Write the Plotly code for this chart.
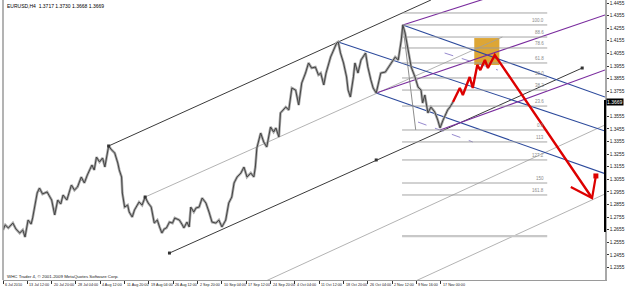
import plotly.graph_objects as go

# ---------------- data ----------------
title_text = "EURUSD,H4  1.3717 1.3730 1.3668 1.3669"
copyright_text = "WHC Trader 4, \u00a9 2001-2009 MetaQuotes Software Corp."
last_price = 1.3669

bars = [0, 3, 7, 13, 17, 22, 26, 29, 33, 37, 39, 42, 45, 48, 52, 58, 62, 64, 68, 72,
        76, 79, 84, 88, 90, 94, 98, 103, 107, 111, 117, 120, 123, 127, 131, 134, 136, 139, 143, 147,
        151, 153, 156, 157, 160, 164, 166, 170, 173, 175, 179, 183, 187, 191, 195, 199, 203, 206, 209, 212,
        215, 219, 223, 226, 232, 236, 238, 242, 245, 247, 251, 254, 258, 262, 267, 271, 275, 280, 284, 288,
        293, 297, 301, 304, 308, 313, 317, 321, 326, 330, 332, 334, 339, 343, 347, 352, 356, 359, 363, 365,
        372, 376, 380, 385, 389, 393, 398, 402, 406, 411, 415, 418, 422, 425, 431, 435, 439, 441, 444, 448,
        452, 454, 457, 461, 463, 467, 471, 477, 480, 484, 487, 491, 494, 497, 503, 507, 511, 516, 520, 524,
        526, 529, 533, 537, 542, 546, 550, 552, 555, 559, 563, 568, 572, 575, 579, 583, 585, 588, 592]
closes = [1.2653, 1.2693, 1.2669, 1.2708, 1.2661, 1.2629, 1.2653, 1.2597, 1.2732, 1.2700, 1.2748, 1.2851, 1.2947, 1.2986, 1.2939, 1.2955, 1.2907, 1.2891, 1.2772, 1.2891,
          1.2859, 1.2931, 1.2891, 1.2970, 1.3010, 1.2970, 1.2994, 1.3074, 1.3026, 1.3090, 1.3169, 1.3129, 1.3232, 1.3193, 1.3225, 1.3153, 1.3209, 1.3320, 1.3288, 1.3264,
          1.3185, 1.3129, 1.3074, 1.2947, 1.2835, 1.2851, 1.2796, 1.2756, 1.2812, 1.2835, 1.2875, 1.2851, 1.2915, 1.2867, 1.2835, 1.2708, 1.2732, 1.2677, 1.2629, 1.2661,
          1.2669, 1.2716, 1.2708, 1.2748, 1.2732, 1.2693, 1.2669, 1.2716, 1.2677, 1.2835, 1.2796, 1.2828, 1.2835, 1.2907, 1.2867, 1.2796, 1.2716, 1.2708, 1.2732, 1.2677,
          1.2732, 1.2867, 1.2915, 1.3026, 1.3074, 1.3105, 1.3153, 1.3074, 1.3105, 1.3074, 1.3153, 1.3304, 1.3423, 1.3352, 1.3312, 1.3471, 1.3431, 1.3463, 1.3391, 1.3582,
          1.3629, 1.3606, 1.3780, 1.3764, 1.3645, 1.3820, 1.3899, 1.3979, 1.3939, 1.3947, 1.3884, 1.3899, 1.3804, 1.3899, 1.4026, 1.4082, 1.4138, 1.4146, 1.4058, 1.3979,
          1.3868, 1.3764, 1.3709, 1.3868, 1.3979, 1.3899, 1.4003, 1.4058, 1.3947, 1.3844, 1.3780, 1.3741, 1.3820, 1.3899, 1.3907, 1.3947, 1.3987, 1.4026, 1.4003, 1.4161,
          1.4281, 1.4217, 1.4082, 1.3947, 1.3868, 1.3788, 1.3764, 1.3661, 1.3725, 1.3582, 1.3629, 1.3590, 1.3526, 1.3463, 1.3526, 1.3582, 1.3606, 1.3629, 1.3669]

x_tick_bars = [0, 32, 64, 96, 128, 160, 192, 224, 256, 288, 320, 352, 384, 416, 448, 480, 512, 544, 576]
x_tick_labels = ["6 Jul 2010", "13 Jul 12:00", "20 Jul 20:00", "28 Jul 04:00", "4 Aug 12:00",
                 "11 Aug 20:00", "19 Aug 04:00", "26 Aug 12:00", "2 Sep 20:00", "10 Sep 04:00",
                 "17 Sep 12:00", "24 Sep 20:00", "4 Oct 04:00", "11 Oct 12:00", "18 Oct 20:00",
                 "26 Oct 04:00", "2 Nov 12:00", "9 Nov 16:00", "17 Nov 00:00"]
y_tick_values = [1.4455, 1.4355, 1.4255, 1.4155, 1.4055, 1.3955, 1.3855, 1.3755, 1.3655, 1.3555,
                 1.3455, 1.3355, 1.3255, 1.3155, 1.3055, 1.2955, 1.2855, 1.2755, 1.2655, 1.2555,
                 1.2455, 1.2355, 1.2255]

# trend lines: (bar0, price0, bar1, price1)
black_lines = [(139, 1.3320, 563, 1.4479), (219, 1.2470, 762, 1.3939)]
grey_lines = [(187, 1.2915, 657, 1.4185), (340, 1.2232, 792, 1.3487), (537, 1.2232, 792, 1.2939)]
blue_lines = [(441, 1.4146, 792, 1.3439), (491, 1.3741, 792, 1.3100), (526, 1.4281, 792, 1.3709)]
purple_lines = [(491, 1.3741, 792, 1.4360), (575, 1.3447, 792, 1.3923), (526, 1.4281, 640, 1.4500)]
dashed_lines = [(581, 1.4058, 651, 1.3923), (546, 1.3510, 618, 1.3352)]
fib_diag = (526, 1.4281, 543, 1.3447)
anchor_bars = [139, 187, 219, 491, 762]
anchor_prices = [1.3320, 1.2915, 1.2470, 1.3209, 1.3939]

fib_prices = [1.4376, 1.4281, 1.4185, 1.4098, 1.3979, 1.3860, 1.3764, 1.3637,
              1.3447, 1.3352, 1.3209, 1.3026, 1.2931]
fib_labels = ["", "100.0", "88.6", "78.6", "61.8", "50.0", "38.2", "23.6",
              "0.0", "113", "127.2", "150", "161.8"]
fib_x = (525, 716)
fib_extra_price = 1.2605

proj_bars = [592, 601, 605, 614, 618, 624, 628, 634, 638, 647]
proj_prices = [1.3669, 1.3780, 1.3725, 1.3868, 1.3780, 1.3963, 1.3923, 1.4003, 1.3939, 1.4042]
arrow_tip = (775, 1.2907)
arrow_wing = (747, 1.2994)
arrow_up = (780, 1.3082)
target_box = (620, 653, 1.3963, 1.4177)

# ---------------- figure ----------------
fig = go.Figure()

def seg(l, color, width, dash="solid"):
    fig.add_trace(go.Scatter(x=[l[0], l[2]], y=[l[1], l[3]], mode="lines",
                             line=dict(color=color, width=width, dash=dash),
                             hoverinfo="skip", showlegend=False))

for l in grey_lines:
    seg(l, "#a0a0a0", 0.8)
for l in black_lines:
    seg(l, "#3a3a3a", 1)
for l in blue_lines:
    seg(l, "#2c4a9c", 1.1)
for l in purple_lines:
    seg(l, "#7a2c9e", 1.1)
for l in dashed_lines:
    seg(l, "#8a7cc8", 0.9, "dash")
seg(fib_diag, "#707070", 0.8)

for p in fib_prices:
    fig.add_trace(go.Scatter(x=list(fib_x), y=[p, p], mode="lines",
                             line=dict(color="#9a9a9a", width=0.9),
                             hoverinfo="skip", showlegend=False))
fig.add_trace(go.Scatter(x=list(fib_x), y=[fib_extra_price, fib_extra_price], mode="lines",
                         line=dict(color="#c8c8c8", width=2.2), hoverinfo="skip", showlegend=False))

# price
fig.add_trace(go.Scatter(x=bars, y=closes, mode="lines",
                         line=dict(color="#a8a8a8", width=2.6), hoverinfo="skip", showlegend=False))
fig.add_trace(go.Scatter(x=bars, y=closes, mode="lines",
                         line=dict(color="#444444", width=1.0), hoverinfo="skip", showlegend=False))

fig.add_trace(go.Scatter(x=anchor_bars, y=anchor_prices, mode="markers",
                         marker=dict(color="#333", size=3, symbol="square"),
                         hoverinfo="skip", showlegend=False))

# projection
red = "#dd0000"
fig.add_trace(go.Scatter(x=proj_bars + [arrow_tip[0]], y=proj_prices + [arrow_tip[1]], mode="lines",
                         line=dict(color=red, width=2.4), hoverinfo="skip", showlegend=False))
fig.add_trace(go.Scatter(x=[arrow_wing[0], arrow_tip[0], arrow_up[0]],
                         y=[arrow_wing[1], arrow_tip[1], arrow_up[1]], mode="lines",
                         line=dict(color=red, width=2.2), hoverinfo="skip", showlegend=False))
fig.add_trace(go.Scatter(x=[arrow_up[0]], y=[arrow_up[1]], mode="markers",
                         marker=dict(color=red, size=5, symbol="square"),
                         hoverinfo="skip", showlegend=False))

fig.add_shape(type="rect", x0=target_box[0], x1=target_box[1], y0=target_box[2], y1=target_box[3],
              fillcolor="rgba(218,158,36,0.92)", line=dict(width=0), layer="below")

# fib labels
for p, t in zip(fib_prices, fib_labels):
    if t:
        fig.add_annotation(x=fib_x[1] - 2, y=p, text=t, showarrow=False, xanchor="right",
                           yanchor="bottom", font=dict(size=4.5, color="#8a8a8a",
                                                        family="Liberation Sans"))

# x tick labels (left aligned like MT4)
for b, t in zip(x_tick_bars, x_tick_labels):
    fig.add_annotation(x=b, y=0, yref="paper", text=t, showarrow=False, xanchor="left",
                       yanchor="top", xshift=0, yshift=-1,
                       font=dict(size=3.7, color="#202020", family="Liberation Sans"))

fig.add_annotation(x=0, y=1, xref="paper", yref="paper", text=title_text, showarrow=False,
                   xanchor="left", yanchor="top", xshift=2, yshift=-1,
                   font=dict(size=5, color="#000", family="Liberation Sans"))
fig.add_annotation(x=0, y=0, xref="paper", yref="paper", text=copyright_text, showarrow=False,
                   xanchor="left", yanchor="bottom", xshift=2, yshift=-1,
                   font=dict(size=4.4, color="#202020", family="Liberation Sans"))
fig.add_annotation(x=1, y=last_price, xref="paper", text=f"{last_price:.4f}", showarrow=False,
                   xanchor="left", yanchor="middle", xshift=1, bgcolor="#000",
                   borderpad=0, font=dict(size=5, color="#fff", family="Liberation Sans"))

# borders
fig.add_shape(type="line", xref="paper", yref="paper", x0=0, x1=0, y0=0, y1=1,
              line=dict(color="#9a9a9a", width=1.5))
fig.add_shape(type="line", xref="paper", x0=1, x1=1, y0=1.3685, y1=1.2637,
              line=dict(color="#000", width=2))

# hide the tick label covered by the current-price box
y_tick_text = ["" if abs(v - last_price) < 0.003 else f"{v:.4f}" for v in y_tick_values]

fig.update_layout(
    width=625, height=288,
    margin=dict(l=3, r=17, t=0, b=8),
    paper_bgcolor="#ffffff", plot_bgcolor="#ffffff",
    showlegend=False,
    xaxis=dict(range=[0, 792], showgrid=False, zeroline=False, showline=True,
               linecolor="#9a9a9a", linewidth=1, ticks="outside", ticklen=3, tickcolor="#333",
               tickvals=x_tick_bars, showticklabels=False, fixedrange=True),
    yaxis=dict(range=[1.2256, 1.4479], side="right", showgrid=False, zeroline=False,
               showline=True, linecolor="#a8a8a8", linewidth=1.5, ticks="outside", ticklen=2,
               tickcolor="#333", tickvals=y_tick_values, ticktext=y_tick_text,
               tickfont=dict(size=4.8, color="#202020", family="Liberation Sans"),
               fixedrange=True),
)

fig.write_html("out.html")
